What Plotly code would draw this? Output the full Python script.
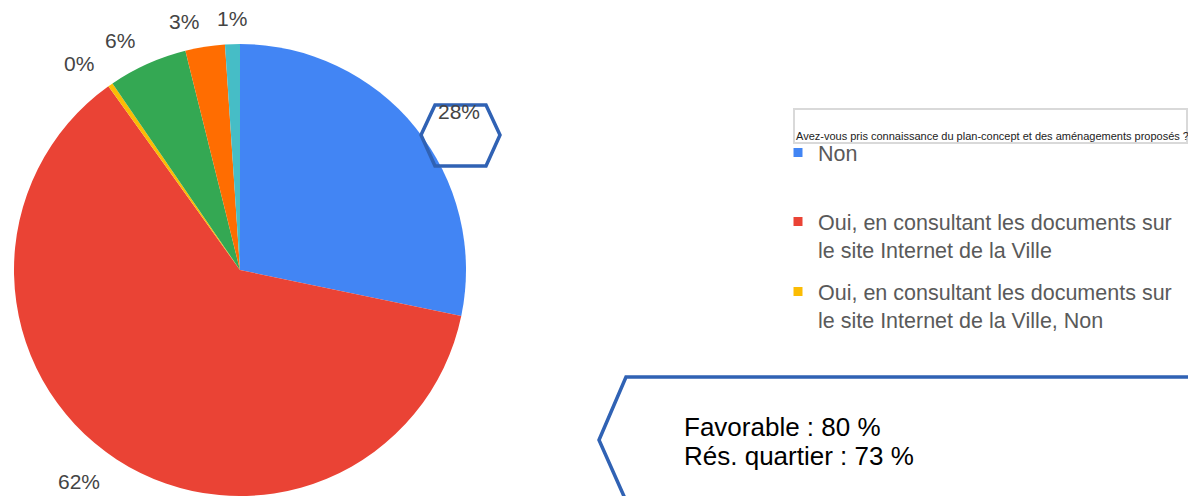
import math
import plotly.graph_objects as go

# survey answers (pie slices, clockwise from 12 o'clock)
labels = [
    "Non",
    "Oui, en consultant les documents sur le site Internet de la Ville",
    "Oui, en consultant les documents sur le site Internet de la Ville, Non",
    "Oui, lors de la séance d'information",
    "Oui, par le bulletin municipal",
    "Autre",
]
values = [80, 175, 1, 16, 8, 3]
colors = ["#4285f4", "#ea4335", "#fbbc04", "#34a853", "#ff6d01", "#46bdc6"]

# only the first three entries are visible in the legend
legend_labels = [
    "Non",
    "Oui, en consultant les documents sur<br>le site Internet de la Ville",
    "Oui, en consultant les documents sur<br>le site Internet de la Ville, Non",
]
legend_title = "Avez-vous pris connaissance du plan-concept et des aménagements proposés ?"
callout_lines = ["Favorable : 80 %", "Rés. quartier : 73 %"]

W, H = 1188, 496
FONT = "Liberation Sans, Arial, sans-serif"


def px(x):
    return x / W


def py(y):
    return 1 - y / H


# pie geometry in pixels
cx, cy, R = 240, 270, 226

fig = go.Figure()

fig.add_trace(go.Pie(
    labels=labels,
    values=values,
    sort=False,
    direction="clockwise",
    rotation=0,
    textinfo="none",
    marker=dict(colors=colors, line=dict(width=0)),
    domain=dict(x=[px(cx - R), px(cx + R)], y=[py(cy + R), py(cy - R)]),
    showlegend=False,
    hoverinfo="label+percent",
))

# percent labels placed along each slice's mid angle
total = sum(values)
annotations = []
cum = 0
for v in values:
    theta = math.radians(360 * (cum + v / 2) / total)
    cum += v
    d = 252
    ax = cx + d * math.sin(theta)
    ay = cy - d * math.cos(theta)
    s = math.sin(theta)
    anchor = "left" if s > 0.1 else ("right" if s < -0.1 else "center")
    annotations.append(dict(
        x=px(ax), y=py(ay), xref="paper", yref="paper",
        text=f"{round(100 * v / total)}%", showarrow=False,
        xanchor=anchor, yanchor="middle",
        font=dict(family=FONT, size=21, color="#444444"),
    ))

# legend entries as separate legends so each can sit where it should
legend_names = ["legend", "legend2", "legend3"]
legend_tops = [132, 201, 271]
for name, lab, col in zip(legend_names, legend_labels, colors):
    fig.add_trace(go.Scatter(
        x=[None], y=[None], mode="markers",
        marker=dict(symbol="square", size=9, color=col),
        name=lab, legend=name, showlegend=True, hoverinfo="skip",
    ))

legend_style = dict(
    x=px(778), xanchor="left", yanchor="top",
    bgcolor="rgba(0,0,0,0)", valign="top",
    font=dict(family=FONT, size=21.5, color="#5a5a5a"),
    itemclick=False, itemdoubleclick=False,
)

annotations.append(dict(
    x=px(794), y=py(136), xref="paper", yref="paper",
    text=legend_title, showarrow=False, xanchor="left", yanchor="middle",
    font=dict(family=FONT, size=11, color="#222222"),
))
for i, line in enumerate(callout_lines):
    annotations.append(dict(
        x=px(682), y=py(427 + 29 * i), xref="paper", yref="paper",
        text=line, showarrow=False, xanchor="left", yanchor="middle",
        font=dict(family=FONT, size=26, color="#000000"),
    ))

BLUE = "#3062b4"
hexagon = [(421, 135), (435, 105), (486, 105), (500, 135), (486, 166), (435, 166)]
hex_path = "M " + " L ".join(f"{px(x)},{py(y)}" for x, y in hexagon) + " Z"
callout = [(1195, 377), (626, 377), (599, 440), (627, 503)]
callout_path = "M " + " L ".join(f"{px(x)},{py(y)}" for x, y in callout)

shapes = [
    dict(type="rect", xref="paper", yref="paper",
         x0=px(794), x1=px(1187), y0=py(143), y1=py(109),
         line=dict(color="#d9d9d9", width=2)),
    dict(type="path", xref="paper", yref="paper", path=hex_path,
         line=dict(color=BLUE, width=3.5)),
    dict(type="path", xref="paper", yref="paper", path=callout_path,
         line=dict(color=BLUE, width=3.5)),
]

fig.update_layout(
    width=W,
    height=H,
    margin=dict(l=0, r=0, t=0, b=0),
    paper_bgcolor="white",
    plot_bgcolor="white",
    xaxis=dict(visible=False),
    yaxis=dict(visible=False),
    legend=dict(y=py(legend_tops[0]), **legend_style),
    legend2=dict(y=py(legend_tops[1]), **legend_style),
    legend3=dict(y=py(legend_tops[2]), **legend_style),
    annotations=annotations,
    shapes=shapes,
)

fig.write_html("out.html", config={"displayModeBar": False},
               post_script="document.body.style.margin='0px';")
